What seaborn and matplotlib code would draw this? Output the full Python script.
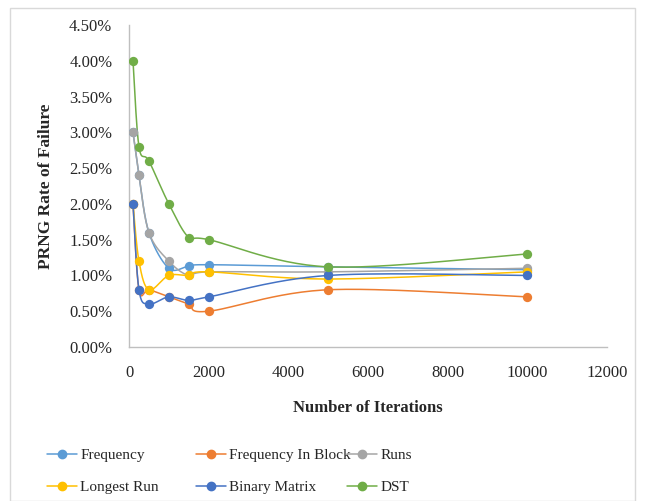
import numpy as np
import pandas as pd
import seaborn as sns
import matplotlib
import matplotlib.pyplot as plt
from matplotlib.lines import Line2D
from matplotlib.patches import Rectangle
from matplotlib.ticker import FuncFormatter

iterations = [100, 250, 500, 1000, 1500, 2000, 5000, 10000]
frequency = [3.0, 2.4, 1.6, 1.1, 1.13, 1.15, 1.12, 1.08]
freq_in_block = [2.0, 0.8, 0.8, 0.7, 0.6, 0.5, 0.8, 0.7]
runs = [3.0, 2.4, 1.6, 1.2, 1.0, 1.05, 1.05, 1.1]
longest_run = [2.0, 1.2, 0.8, 1.0, 1.0, 1.05, 0.95, 1.05]
binary_matrix = [2.0, 0.8, 0.6, 0.7, 0.65, 0.7, 1.0, 1.0]
dst = [4.0, 2.8, 2.6, 2.0, 1.53, 1.5, 1.12, 1.3]

names = ["Frequency", "Frequency In Block", "Runs", "Longest Run", "Binary Matrix", "DST"]
series = [frequency, freq_in_block, runs, longest_run, binary_matrix, dst]
colors = ["#5B9BD5", "#ED7D31", "#A5A5A5", "#FFC000", "#4472C4", "#70AD47"]


def smooth(xs, ys, n=30):
    # excel-ish smoothed line: catmull-rom bezier through the points
    x = np.asarray(xs, float)
    y = np.asarray(ys, float)
    px = np.concatenate([[x[0]], x, [x[-1]]])
    py = np.concatenate([[y[0]], y, [y[-1]]])
    outx, outy = [], []
    t = np.linspace(0, 1, n)
    for i in range(1, len(px) - 2):
        p0 = np.array([px[i], py[i]])
        p3 = np.array([px[i + 1], py[i + 1]])
        c1 = p0 + (np.array([px[i + 1], py[i + 1]]) - np.array([px[i - 1], py[i - 1]])) / 6
        c2 = p3 - (np.array([px[i + 2], py[i + 2]]) - np.array([px[i], py[i]])) / 6
        b = ((1 - t) ** 3)[:, None] * p0 + (3 * (1 - t) ** 2 * t)[:, None] * c1 \
            + (3 * (1 - t) * t ** 2)[:, None] * c2 + (t ** 3)[:, None] * p3
        outx.extend(b[:, 0])
        outy.extend(b[:, 1])
    return outx, outy


sns.set_style("white")
plt.rcParams['font.family'] = ['Liberation Serif', 'DejaVu Serif']

fig = plt.figure(figsize=(6.46, 5.01), dpi=100)
ax = fig.add_axes([0.1997, 0.3074, 0.7399, 0.6427])

for name, vals, c in zip(names, series, colors):
    sx, sy = smooth(iterations, vals)
    curve = pd.DataFrame({"x": sx, "y": sy})
    sns.lineplot(data=curve, x="x", y="y", sort=False, color=c, linewidth=1.1, ax=ax, zorder=2)
    pts = pd.DataFrame({"x": iterations, "y": vals})
    sns.scatterplot(data=pts, x="x", y="y", color=c, s=45, edgecolor=c, linewidth=0, ax=ax, zorder=3)

ax.set_xlim(0, 12000)
ax.set_ylim(0, 4.5)
ax.set_xticks(np.arange(0, 12001, 2000))
ax.set_yticks(np.arange(0, 4.51, 0.5))
ax.yaxis.set_major_formatter(FuncFormatter(lambda v, p: f"{v:.2f}%"))
ax.tick_params(axis="y", labelsize=12, length=0, pad=12)
ax.tick_params(axis="x", labelsize=12, length=0, pad=13)
ax.set_xlabel("Number of Iterations", fontsize=12, fontweight="bold", labelpad=14)
ax.set_ylabel("PRNG Rate of Failure", fontsize=12.5, fontweight="bold", labelpad=11)
for s in ["top", "right"]:
    ax.spines[s].set_visible(False)
for s in ["left", "bottom"]:
    ax.spines[s].set_color("#BFBFBF")
    ax.spines[s].set_linewidth(1.0)

# legend in three columns like the excel one
cols = [[0, 3], [1, 4], [2, 5]]
xpos = [0.072, 0.303, 0.537]
for idx, xp in zip(cols, xpos):
    handles = [Line2D([], [], color=colors[i], marker="o", markersize=6, linewidth=1.1) for i in idx]
    fig.legend(handles, [names[i] for i in idx], loc="upper left", bbox_to_anchor=(xp, 0.105),
               frameon=False, fontsize=11, handlelength=2.0, handletextpad=0.2,
               labelspacing=1.2, borderpad=0, borderaxespad=0)

fig.patches.append(Rectangle((0.015, 0.0), 0.968, 0.985, transform=fig.transFigure,
                             fill=False, edgecolor="#D9D9D9", linewidth=1.0))

fig.savefig("out.png", dpi=100)
